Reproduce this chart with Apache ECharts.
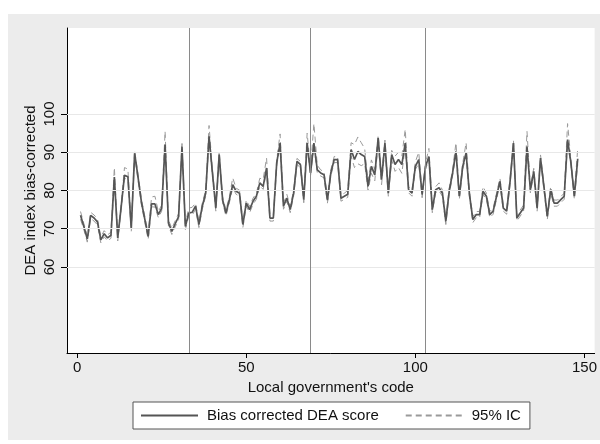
<!DOCTYPE html>
<html>
<head>
<meta charset="utf-8">
<script src="https://cdn.jsdelivr.net/npm/echarts@6/dist/echarts.min.js"></script>
<style>
  html, body { margin: 0; padding: 0; background: #fff; }
  #chart { width: 600px; height: 444px; }
</style>
</head>
<body>
<div id="chart"></div>
<script>
// local government codes 1..148
var score = [
  73.5, 70.5, 67.3, 73.5, 72.8, 71.8, 67.1, 68.7, 67.6, 68.3,
  83.5, 67.6, 75.6, 84.0, 83.6, 70.1, 89.7, 83.5, 77.0, 72.5,
  68.0, 76.5, 76.5, 73.7, 75.4, 92.0, 71.5, 69.3, 71.3, 73.2,
  91.5, 70.6, 74.1, 74.3, 75.9, 71.1, 75.9, 79.3, 94.2, 84.6,
  75.4, 89.4, 77.6, 74.1, 77.6, 81.5, 79.8, 79.3, 71.1, 76.7,
  75.0, 77.2, 78.5, 82.0, 81.1, 85.9, 72.8, 72.8, 87.2, 92.4,
  75.9, 78.0, 75.0, 79.3, 87.6, 86.8, 77.6, 92.4, 84.6, 92.4,
  85.4, 84.6, 84.1, 77.5, 84.6, 88.1, 88.1, 78.0, 78.5, 79.0,
  90.7, 88.1, 90.2, 89.4, 88.9, 81.1, 86.3, 84.1, 93.7, 82.8,
  92.4, 79.3, 89.4, 86.8, 88.1, 86.8, 92.4, 80.2, 79.3, 86.3,
  88.1, 78.9, 86.3, 88.9, 75.0, 80.2, 80.7, 79.3, 71.9, 79.8,
  84.6, 90.2, 78.5, 86.3, 89.8, 78.9, 72.4, 73.7, 73.7, 79.8,
  78.5, 73.7, 74.6, 78.5, 82.4, 75.4, 74.6, 82.4, 92.4, 72.8,
  74.1, 75.4, 91.5, 80.2, 85.0, 75.4, 88.5, 81.1, 73.2, 80.2,
  76.7, 76.7, 77.6, 78.5, 93.3, 87.2, 78.5, 88.3
];
var upperIC = [
  74.5, 71.3, 68.1, 74.3, 73.6, 72.6, 67.9, 69.5, 68.4, 69.1,
  86.0, 68.4, 76.4, 86.0, 85.6, 70.9, 90.5, 84.3, 77.8, 73.3,
  68.8, 78.3, 78.5, 74.5, 76.2, 95.5, 72.3, 70.1, 72.1, 74.0,
  92.3, 71.4, 75.4, 75.6, 76.7, 71.9, 76.7, 80.1, 97.0, 85.4,
  76.2, 90.2, 78.4, 74.9, 78.4, 83.3, 80.6, 80.1, 71.9, 77.5,
  75.8, 78.0, 79.3, 83.2, 82.9, 88.5, 73.6, 73.6, 88.0, 94.8,
  76.7, 79.0, 75.8, 80.1, 88.4, 87.6, 78.4, 95.0, 85.6, 97.5,
  86.6, 85.4, 84.9, 78.3, 85.4, 88.9, 88.9, 78.8, 79.3, 80.0,
  92.5, 92.0, 94.0, 92.5, 91.0, 82.5, 88.0, 85.5, 94.5, 84.0,
  93.2, 80.1, 90.5, 89.0, 90.0, 89.0, 96.0, 81.0, 80.1, 87.5,
  90.0, 79.7, 87.1, 91.0, 75.8, 81.0, 82.0, 80.1, 72.7, 80.6,
  85.4, 92.5, 79.3, 87.1, 92.5, 79.7, 73.2, 74.5, 74.5, 81.0,
  79.3, 74.5, 75.4, 79.3, 83.2, 76.2, 75.4, 83.2, 93.2, 73.6,
  74.9, 76.2, 95.5, 81.0, 85.8, 76.2, 89.3, 81.9, 74.0, 81.0,
  77.5, 77.5, 78.4, 79.3, 97.5, 88.0, 79.3, 91.0
];
var lowerIC = [
  72.5, 69.7, 66.5, 72.7, 72.0, 71.0, 66.3, 67.9, 66.8, 67.5,
  82.7, 66.8, 74.8, 83.2, 82.8, 69.3, 88.9, 82.7, 76.2, 71.7,
  67.2, 75.7, 75.7, 72.9, 74.6, 91.2, 70.7, 68.5, 70.5, 72.4,
  90.7, 69.8, 73.3, 73.5, 75.1, 70.3, 75.1, 78.5, 93.4, 83.8,
  74.6, 88.6, 76.8, 73.3, 76.8, 80.7, 79.0, 78.5, 70.3, 75.9,
  74.2, 76.4, 77.7, 81.2, 80.3, 85.1, 72.0, 72.0, 86.4, 91.6,
  75.1, 77.2, 74.2, 78.5, 86.8, 86.0, 76.8, 91.6, 83.8, 91.6,
  84.6, 83.8, 83.3, 76.7, 83.8, 87.3, 87.3, 77.2, 77.7, 78.2,
  89.0, 86.0, 87.0, 86.5, 87.0, 80.0, 84.5, 82.5, 92.5, 81.5,
  91.0, 78.5, 88.0, 85.0, 86.0, 84.5, 91.6, 79.4, 78.5, 85.5,
  87.0, 78.1, 85.5, 88.1, 74.2, 79.4, 79.9, 78.5, 71.1, 79.0,
  83.8, 89.4, 77.7, 85.5, 89.0, 78.1, 71.6, 72.9, 72.9, 79.0,
  77.7, 72.9, 73.8, 77.7, 81.6, 74.6, 73.8, 81.6, 91.6, 72.0,
  73.3, 74.6, 90.7, 79.4, 84.2, 74.6, 87.7, 80.3, 72.4, 79.4,
  75.9, 75.9, 76.8, 77.7, 92.5, 86.4, 77.7, 86.8
];
var xTicks = [0, 50, 100, 150];
var yTicks = [60, 70, 80, 90, 100];
var cutLines = [33, 69, 103];

function pairs(arr) {
  var out = [];
  for (var i = 0; i < arr.length; i++) {
    out.push([i + 1, arr[i]]);
  }
  return out;
}

var font = 'Liberation Sans, Arial, sans-serif';
var chart = echarts.init(document.getElementById('chart'));

var option = {
  backgroundColor: '#fff',
  animation: false,
  graphic: [{
    type: 'rect',
    z: -100,
    shape: { x: 8, y: 14, width: 592, height: 426 },
    style: { fill: '#ececec' }
  }],
  grid: {
    left: 67, right: 4, top: 28, bottom: 91,
    show: true, backgroundColor: '#fff', borderWidth: 0
  },
  legend: {
    left: 133, top: 402,
    padding: [6, 9, 6, 7],
    itemWidth: 57, itemHeight: 14, itemGap: 26,
    itemStyle: { opacity: 0 },
    backgroundColor: '#fff', borderColor: '#555', borderWidth: 1, borderRadius: 0,
    textStyle: { fontFamily: font, fontSize: 15, color: '#111', padding: [0, 0, 0, 4] },
    data: ['Bias corrected DEA score', '95% IC']
  },
  xAxis: {
    type: 'value', min: -3, max: 153,
    name: "Local government's code", nameLocation: 'middle', nameGap: 25,
    nameTextStyle: { fontFamily: font, fontSize: 15, color: '#111' },
    axisLine: { onZero: false, lineStyle: { color: '#000', width: 1 } },
    axisTick: { customValues: xTicks, length: 5, lineStyle: { color: '#000' } },
    axisLabel: { customValues: xTicks, margin: 7, fontFamily: font, fontSize: 15, color: '#111' },
    splitLine: { show: false }
  },
  yAxis: {
    type: 'value', min: 37.5, max: 122.5,
    name: 'DEA index bias-corrected', nameLocation: 'middle', nameGap: 29, nameRotate: 90,
    nameMoveOverlap: false,
    nameTextStyle: { fontFamily: font, fontSize: 15, color: '#111' },
    axisLine: { show: true, onZero: false, lineStyle: { color: '#000', width: 1 } },
    axisTick: { show: true, customValues: yTicks, length: 6, lineStyle: { color: '#000' } },
    axisLabel: { customValues: yTicks, rotate: 90, margin: 10, fontFamily: font, fontSize: 15, color: '#111' },
    splitLine: { show: false }
  },
  series: [
    {
      name: '95% IC', type: 'line', data: pairs(upperIC), symbol: 'none', silent: true, z: 2,
      lineStyle: { color: '#9a9a9a', width: 1, type: [6, 4] },
      itemStyle: { color: '#9a9a9a' },
      markLine: {
        silent: true, symbol: 'none', label: { show: false },
        lineStyle: { color: '#e8e8e8', width: 1, type: 'solid' },
        data: yTicks.map(function (v) { return { yAxis: v }; })
      }
    },
    {
      name: '95% IC', type: 'line', data: pairs(lowerIC), symbol: 'none', silent: true, z: 2,
      lineStyle: { color: '#9a9a9a', width: 1, type: [6, 4] },
      itemStyle: { color: '#9a9a9a' },
      markLine: {
        silent: true, symbol: 'none', label: { show: false },
        lineStyle: { color: '#8a8a8a', width: 1, type: 'solid' },
        data: cutLines.map(function (v) { return { xAxis: v }; })
      }
    },
    {
      name: 'Bias corrected DEA score', type: 'line', data: pairs(score), symbol: 'none', z: 3,
      lineStyle: { color: '#555555', width: 1.7 },
      itemStyle: { color: '#555555' }
    }
  ]
};
chart.setOption(option);
</script>
</body>
</html>
